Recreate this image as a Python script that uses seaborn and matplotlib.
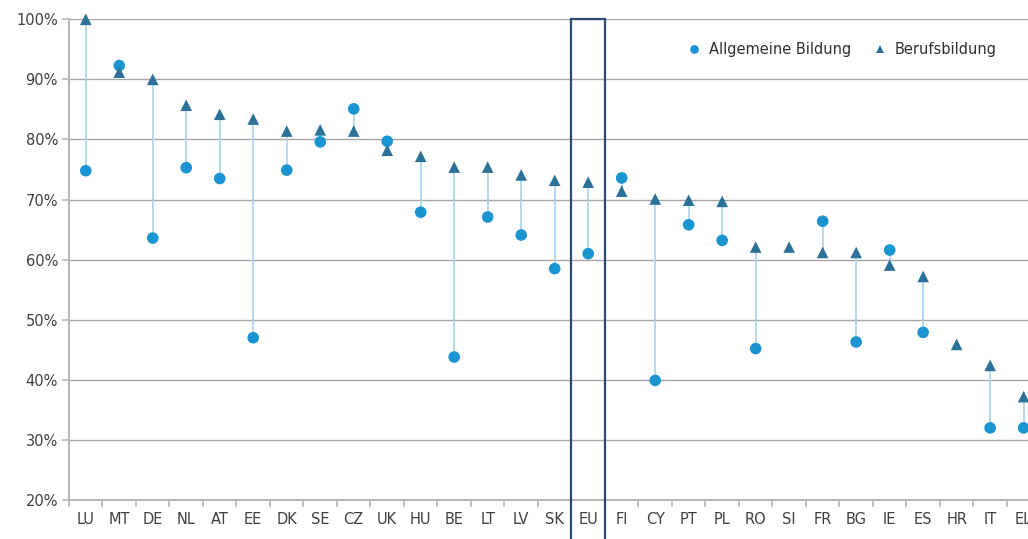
"""Allgemeine Bildung vs. Berufsbildung by country (high-low dot chart)."""
import numpy as np
import pandas as pd
import seaborn as sns
from matplotlib import pyplot as plt
from matplotlib.patches import Rectangle
from matplotlib.ticker import FuncFormatter, FixedLocator
import matplotlib.transforms as mtransforms

countries = ['LU', 'MT', 'DE', 'NL', 'AT', 'EE', 'DK', 'SE', 'CZ', 'UK', 'HU', 'BE', 'LT', 'LV', 'SK',
             'EU', 'FI', 'CY', 'PT', 'PL', 'RO', 'SI', 'FR', 'BG', 'IE', 'ES', 'HR', 'IT', 'EL']
allgemein = [74.8, 92.3, 63.6, 75.3, 73.5, 47.0, 74.9, 79.6, 85.1, 79.7, 67.9, 43.8, 67.1, 64.1, 58.5,
             61.0, 73.6, 39.9, 65.8, 63.2, 45.2, np.nan, 66.4, 46.3, 61.6, 47.9, np.nan, 32.0, 32.0]
beruf = [100.0, 91.2, 90.0, 85.7, 84.2, 83.4, 81.4, 81.6, 81.4, 78.2, 77.2, 75.4, 75.4, 74.1, 73.2,
         72.9, 71.4, 70.1, 69.9, 69.7, 62.1, 62.1, 61.2, 61.2, 59.1, 57.2, 45.9, 42.4, 37.2]
series_names = ['Allgemeine Bildung', 'Berufsbildung']

df = pd.DataFrame({'land': countries, series_names[0]: allgemein, series_names[1]: beruf})
df['x'] = np.arange(len(df))
long = df.melt(id_vars=['land', 'x'], value_vars=series_names, var_name='typ', value_name='wert').dropna()

sns.set_style('white')
plt.rcParams['font.family'] = ['DejaVu Sans']

fig = plt.figure(figsize=(10.28, 5.39), dpi=100)
ax = fig.add_axes([69 / 1028, 1 - 500 / 539, 1 - 69 / 1028, (500 - 19.3) / 539])

# high-low connector lines
both = df.dropna()
ax.vlines(both['x'], both[series_names[0]], both[series_names[1]], color='#a9d3ea', lw=1.2, zorder=2)

sns.scatterplot(data=long, x='x', y='wert', hue='typ', style='typ',
                palette={series_names[0]: '#1b95d2', series_names[1]: '#2c7197'},
                markers={series_names[0]: 'o', series_names[1]: '^'},
                s=70, edgecolor='none', linewidth=0, ax=ax, zorder=3, clip_on=False)

ax.set_xlim(-0.5, 28.13)
ax.set_ylim(20, 100)
ax.set_yticks(range(20, 101, 10))
ax.yaxis.set_major_formatter(FuncFormatter(lambda v, p: f'{v:.0f}%'))
ax.set_xticks(df['x'])
ax.set_xticklabels(countries)
ax.xaxis.set_minor_locator(FixedLocator(np.arange(-0.5, 28.6, 1)))
ax.tick_params(axis='x', which='major', bottom=False, length=0, pad=9, labelsize=10.5, labelcolor='#404040')
ax.tick_params(axis='x', which='minor', bottom=True, length=5, width=1.2, color='#b8b8b8', direction='out')
ax.tick_params(axis='y', left=True, length=5, width=1.2, color='#b8b8b8', direction='out', labelsize=10.5,
               labelcolor='#404040', pad=3)
ax.set_xlabel('')
ax.set_ylabel('')
ax.grid(axis='y', color='#a6a6a6', lw=1)
ax.set_axisbelow(True)
for side in ['top', 'right']:
    ax.spines[side].set_visible(False)
ax.spines['left'].set_color('#b8b8b8')
ax.spines['bottom'].set_color('#b8b8b8')
ax.spines['left'].set_linewidth(1.5)
ax.spines['bottom'].set_linewidth(1.5)

# highlight EU column
eu = countries.index('EU')
trans = mtransforms.blended_transform_factory(ax.transData, ax.transAxes)
ax.add_patch(Rectangle((eu - 0.5, -0.2), 1.0, 1.2, transform=trans, fill=False,
                       edgecolor='#2d4b70', lw=1.6, clip_on=False, zorder=4))

handles, labels = ax.get_legend_handles_labels()
ax.legend(handles, labels, loc='upper left', bbox_to_anchor=(0.623, 0.98), ncol=2, frameon=False,
          fontsize=10.5, handletextpad=0.0, columnspacing=1.0, markerscale=0.75,
          labelcolor='#303030')

fig.savefig('out.png', dpi=100)
